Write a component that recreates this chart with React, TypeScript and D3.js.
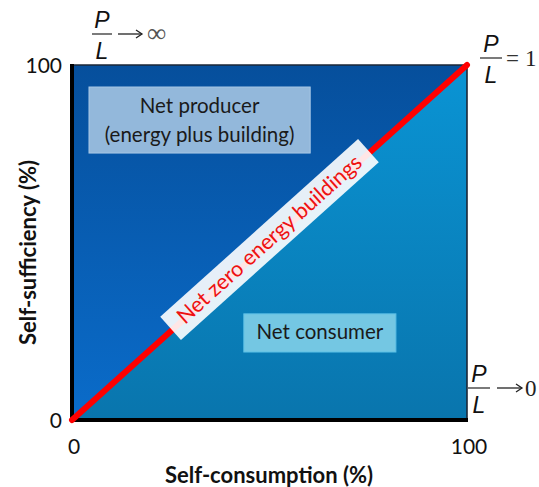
import React from "react";
import * as d3 from "d3";

const xTicks = [0, 100];
const yTicks = [0, 100];
const diagonal: [number, number][] = [[0, 0], [100, 100]];
const producerLines = ["Net producer", "(energy plus building)"];
const consumerLines = ["Net consumer"];
const diagonalLabel = "Net zero energy buildings";
const xTitle = "Self-consumption (%)";
const yTitle = "Self-sufficiency (%)";

const W = 539;
const H = 487;

export default function App() {
  const x = d3.scaleLinear().domain([0, 100]).range([72, 467]);
  const y = d3.scaleLinear().domain([0, 100]).range([420, 65]);
  const line = d3.line<[number, number]>().x((d) => x(d[0])).y((d) => y(d[1]));
  const upper = line([[0, 0], [0, 100], [100, 100]] as [number, number][]) + "Z";
  const lower = line([[0, 0], [100, 0], [100, 100]] as [number, number][]) + "Z";
  const angle = (Math.atan2(y(100) - y(0), x(100) - x(0)) * 180) / Math.PI;
  const cx = x(50);
  const cy = y(50) - 3;
  const sans = "Lato, 'Open Sans', sans-serif";
  const mathSans = "'Liberation Sans', Arial, sans-serif";
  const serif = "'Liberation Serif', 'Times New Roman', serif";

  const frac = (px: number, barY: number, barW: number) => (
    <g>
      <text x={px} y={barY - 6} textAnchor="middle" fontFamily={mathSans} fontStyle="italic" fontSize={23} fill="#111">P</text>
      <line x1={px - barW / 2} x2={px + barW / 2} y1={barY} y2={barY} stroke="#222" strokeWidth={1.2} />
      <text x={px} y={barY + 25} textAnchor="middle" fontFamily={mathSans} fontStyle="italic" fontSize={23} fill="#111">L</text>
    </g>
  );
  const arrow = (x0: number, x1: number, yy: number) => (
    <g stroke="#222" strokeWidth={1.3} fill="none">
      <line x1={x0} x2={x1} y1={yy} y2={yy} />
      <path d={`M${x1 - 6},${yy - 4} L${x1},${yy} L${x1 - 6},${yy + 4}`} />
    </g>
  );

  return (
    <svg width={W} height={H} style={{ position: "fixed", left: 0, top: 0, display: "block", background: "#fff" }}>
      <defs>
        <linearGradient id="gUp" x1="0" y1="0" x2="0" y2="1">
          <stop offset="0%" stopColor="#064f9c" />
          <stop offset="100%" stopColor="#0a6cca" />
        </linearGradient>
        <linearGradient id="gLow" x1="0" y1="0" x2="0" y2="1">
          <stop offset="0%" stopColor="#0a94d4" />
          <stop offset="100%" stopColor="#0975ad" />
        </linearGradient>
      </defs>
      <path d={upper} fill="url(#gUp)" />
      <path d={lower} fill="url(#gLow)" />
      {/* frame */}
      <line x1={x(0)} x2={x(100)} y1={y(100)} y2={y(100)} stroke="#1b2636" strokeWidth={1.6} />
      <line x1={x(100)} x2={x(100)} y1={y(100)} y2={y(0)} stroke="#1b2636" strokeWidth={1.6} />
      <line x1={x(0)} x2={x(0)} y1={y(100) - 1} y2={y(0) + 2} stroke="#000" strokeWidth={4} />
      <line x1={x(0) - 2} x2={x(100) + 1} y1={y(0)} y2={y(0)} stroke="#000" strokeWidth={4} />

      {/* producer box */}
      <rect x={x(4.3)} y={y(93.8)} width={x(60.3) - x(4.3)} height={y(75.2) - y(93.8)} fill="#93b8db" stroke="#a8c8e6" strokeWidth={1} />
      {producerLines.map((t, i) => (
        <text key={t} x={(x(4.3) + x(60.3)) / 2} y={y(93.8) + 26 + i * 29} textAnchor="middle" fontFamily={sans} fontSize={20.5} fill="#1a1a1a">{t}</text>
      ))}
      {/* consumer box */}
      <rect x={x(43.5)} y={y(29.9)} width={x(82) - x(43.5)} height={y(19.15) - y(29.9)} fill="#74c7e3" stroke="#5cc0e6" strokeWidth={1} />
      {consumerLines.map((t) => (
        <text key={t} x={(x(43.5) + x(82)) / 2} y={y(29.9) + 25} textAnchor="middle" fontFamily={sans} fontSize={20.5} fill="#1a1a1a">{t}</text>
      ))}

      {/* diagonal */}
      <path d={line(diagonal) || ""} stroke="#ff0000" strokeWidth={6} fill="none" strokeLinecap="round" />
      <g transform={`translate(${cx},${cy}) rotate(${angle})`}>
        <rect x={-133} y={-15.5} width={266} height={31} fill="#ffffff" fillOpacity={0.9} />
        <text x={0} y={7} textAnchor="middle" fontFamily={sans} fontSize={21.5} fill="#ee1111">{diagonalLabel}</text>
      </g>

      {/* ticks */}
      {yTicks.map((t) => (
        <text key={"y" + t} x={62} y={y(t) + 7.5} textAnchor="end" fontFamily={sans} fontSize={21} fill="#111">{t}</text>
      ))}
      {xTicks.map((t) => (
        <text key={"x" + t} x={x(t) + 2} y={454} textAnchor="middle" fontFamily={sans} fontSize={21} fill="#111">{t}</text>
      ))}
      <text x={269} y={483} textAnchor="middle" fontFamily={sans} fontWeight="bold" fontSize={22} fill="#111">{xTitle}</text>
      <text transform={`translate(36,${(y(0) + y(100)) / 2 + 10}) rotate(-90)`} textAnchor="middle" fontFamily={sans} fontWeight="bold" fontSize={22} fill="#111">{yTitle}</text>

      {/* ratio annotations */}
      {frac(102, 34, 20)}
      {arrow(118, 142, 34)}
      <text x={147} y={42} fontFamily={serif} fontSize={27} fill="#555">{"\u221E"}</text>

      {frac(491, 58, 22)}
      <text x={506} y={66} fontFamily={serif} fontSize={23} fill="#333">=</text>
      <text x={525} y={66} fontFamily={serif} fontSize={23} fill="#222">1</text>

      {frac(479, 388, 22)}
      {arrow(497, 522, 388)}
      <text x={525} y={396} fontFamily={serif} fontSize={23} fill="#222">0</text>
    </svg>
  );
}
